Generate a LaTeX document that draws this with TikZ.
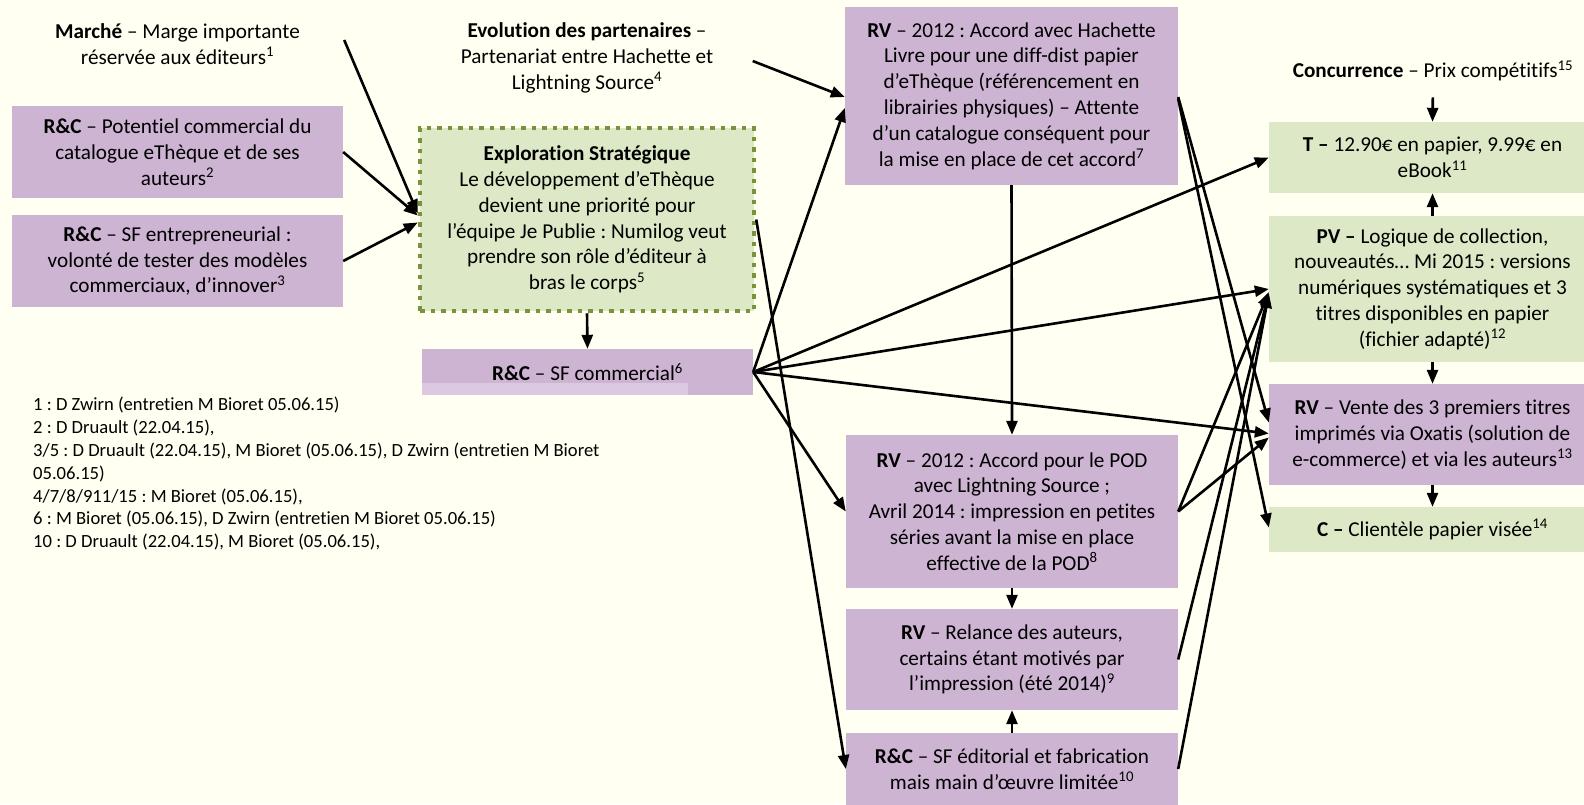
\documentclass[tikz,border=0pt]{standalone}
\usepackage{fontspec}
\setmainfont{Carlito}[Ligatures=NoCommon]
\usepackage{xcolor}
\usepackage{tikz}
\usetikzlibrary{positioning, calc, arrows.meta}
\frenchspacing

\definecolor{fond}{HTML}{FFFFF2}
\definecolor{boxviolet}{HTML}{CDB4D3}
\definecolor{violetclair}{HTML}{DCC8E0}
\definecolor{boxvert}{HTML}{DDE9C6}
\definecolor{bordvert}{HTML}{77933C}

\begin{document}
\begin{tikzpicture}[
    x=1pt, y=-1pt,
    every node/.style={font=\fontsize{21.2}{25.8}\selectfont, align=center, inner sep=0pt},
    violetbox/.style={fill=boxviolet, minimum width=332pt},
    vertbox/.style={fill=boxvert, minimum width=327pt},
    libre/.style={minimum width=331pt},
    explobox/.style={fill=boxvert, draw=bordvert, line width=4.5pt, dash pattern=on 4.5pt off 6pt, minimum width=334pt, minimum height=183pt},
    fleche/.style={-{Triangle[length=14pt,width=11pt]}, line width=2.6pt},
    notes/.style={font=\fontsize{18.6}{22.8}\selectfont, align=left, anchor=north west}
]

% fond
\useasboundingbox (0,0) rectangle (1584,804);
\fill[fond] (0,0) rectangle (1584,804);

% colonne de gauche
\node[libre] (marche) at (177.5,44) {\textbf{Marché} – Marge importante\\réservée aux éditeurs\textsuperscript{1}};
\node[violetbox, minimum width=331pt, minimum height=92pt] (rcpot) at (177.5,152) {\textbf{R\&C} – Potentiel commercial du\\catalogue eThèque et de ses\\auteurs\textsuperscript{2}};
\node[violetbox, minimum width=331pt, minimum height=92pt] (rcent) at (177.5,261) {\textbf{R\&C} – SF entrepreneurial :\\volonté de tester des modèles\\commerciaux, d’innover\textsuperscript{3}};

% exploration
\node[libre] (evol) at (587,58) {\textbf{Evolution des partenaires} –\\Partenariat entre Hachette et\\Lightning Source\textsuperscript{4}};
\node[explobox] (explo) at (587,219.5) {\textbf{Exploration Stratégique}\\Le développement d’eThèque\\devient une priorité pour\\l’équipe Je Publie : Numilog veut\\prendre son rôle d’éditeur à\\bras le corps\textsuperscript{5}};
\node[violetbox, minimum width=331pt, minimum height=46pt] (rcsf) at (587.5,372) {\textbf{R\&C} – SF commercial\textsuperscript{6}};
\fill[violetclair] ($(rcsf.south west)+(0,-12)$) rectangle ($(rcsf.south west)+(266,0)$);

% colonne du milieu
\node[violetbox, minimum width=333pt, minimum height=178pt] (rvhach) at (1011.5,96) {\textbf{RV} – 2012 : Accord avec Hachette\\Livre pour une diff-dist papier\\d’eThèque (référencement en\\librairies physiques) – Attente\\d’un catalogue conséquent pour\\la mise en place de cet accord\textsuperscript{7}};
\node[violetbox, minimum height=153pt] (rvpod) at (1012,511.5) {\textbf{RV} – 2012 : Accord pour le POD\\avec Lightning Source ;\\Avril 2014 : impression en petites\\séries avant la mise en place\\effective de la POD\textsuperscript{8}};
\node[violetbox, minimum height=101pt] (rvrel) at (1012,659.5) {\textbf{RV} – Relance des auteurs,\\certains étant motivés par\\l’impression (été 2014)\textsuperscript{9}};
\node[violetbox, minimum height=72pt] (rcedit) at (1012,769) {\textbf{R\&C} – SF éditorial et fabrication\\mais main d’œuvre limitée\textsuperscript{10}};

% colonne de droite
\node (concur) at (1433,71) {\textbf{Concurrence} – Prix compétitifs\textsuperscript{15}};
\node[vertbox, minimum height=71pt] (tarif) at (1432.5,157.5) {\textbf{T –} 12.90€ en papier, 9.99€ en\\eBook\textsuperscript{11}};
\node[vertbox, minimum height=146pt] (pv) at (1432.5,289) {\textbf{PV –} Logique de collection,\\nouveautés… Mi 2015 : versions\\numériques systématiques et 3\\titres disponibles en papier\\(fichier adapté)\textsuperscript{12}};
\node[violetbox, minimum width=327pt, minimum height=101pt] (rvvente) at (1432.5,434.5) {\textbf{RV} – Vente des 3 premiers titres\\imprimés via Oxatis (solution de\\e-commerce) et via les auteurs\textsuperscript{13}};
\node[vertbox, minimum height=45pt] (client) at (1432.5,529.5) {\textbf{C –} Clientèle papier visée\textsuperscript{14}};

% sources
\node[notes] (sources) at (33,397) {1 : D Zwirn (entretien M Bioret 05.06.15)\\2 : D Druault (22.04.15),\\3/5 : D Druault (22.04.15), M Bioret (05.06.15), D Zwirn (entretien M Bioret\\05.06.15)\\4/7/8/911/15 : M Bioret (05.06.15),\\6 : M Bioret (05.06.15), D Zwirn (entretien M Bioret 05.06.15)\\10 : D Druault (22.04.15), M Bioret (05.06.15),};

% vers l'exploration
\draw[fleche] ($(marche.east)+(1,-4)$) -- ($(explo.west)+(0,-6)$);
\draw[fleche] (rcpot.east) -- ($(explo.west)+(0,-4)$);
\draw[fleche] (rcent.east) -- ($(explo.west)+(0,3)$);
\draw[fleche] (explo.south) -- (rcsf.north);
\draw[fleche] ($(evol.east)+(0,3)$) -- ($(rvhach.west)+(0,1)$);
\draw[fleche] (explo.east) -- (rcedit.west);

% depuis le SF commercial
\draw[fleche] (rcsf.east) -- ($(rvhach.west)+(0,12)$);
\draw[fleche] (rcsf.east) -- (tarif.west);
\draw[fleche] (rcsf.east) -- (pv.west);
\draw[fleche] (rcsf.east) -- ($(rvvente.west)+(0,-1)$);
\draw[fleche] (rcsf.east) -- (rvpod.west);

% colonne du milieu
\draw[fleche] (rvhach.south) -- (rvpod.north);
\draw[fleche] (rvpod.south) -- (rvrel.north);
\draw[fleche] (rcedit.north) -- (rvrel.south);
\draw[fleche] ($(rvhach.east)+(0,1)$) -- ($(rvvente.west)+(0,-12)$);
\draw[fleche] ($(rvhach.east)+(0,3)$) -- ($(client.west)+(0,-2)$);
\draw[fleche] (rvpod.east) -- ($(pv.west)+(0,3)$);
\draw[fleche] (rvpod.east) -- ($(rvvente.west)+(0,3)$);
\draw[fleche] (rvrel.east) -- ($(pv.west)+(0,4)$);
\draw[fleche] (rcedit.east) -- ($(pv.west)+(0,5)$);

% colonne de droite
\draw[fleche, shorten <=16pt] (concur.south) -- (tarif.north);
\draw[fleche] (pv.north) -- (tarif.south);
\draw[fleche] (pv.south) -- (rvvente.north);
\draw[fleche] (rvvente.south) -- (client.north);

\end{tikzpicture}
\end{document}
